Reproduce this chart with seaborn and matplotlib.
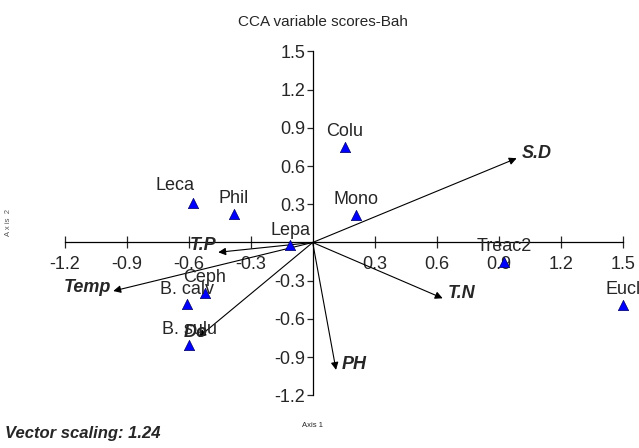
import pandas as pd
import seaborn as sns
import matplotlib.pyplot as plt

# Species scores (blue triangles)
species = ['Colu', 'Mono', 'Leca', 'Phil', 'Lepa', 'Ceph', 'B. calv', 'B. sulu', 'Treac2', 'Eucl']
sp_axis1 = [0.156, 0.209, -0.578, -0.381, -0.109, -0.521, -0.610, -0.598, 0.926, 1.500]
sp_axis2 = [0.752, 0.216, 0.313, 0.224, -0.020, -0.394, -0.483, -0.804, -0.151, -0.490]

# Environmental vectors
env_vars = ['S.D', 'T.N', 'T.P', 'Temp', 'Do', 'PH']
env_axis1 = [0.987, 0.629, -0.457, -0.965, -0.553, 0.113]
env_axis2 = [0.661, -0.438, -0.077, -0.381, -0.744, -1.000]

ticks = [-1.2, -0.9, -0.6, -0.3, 0.3, 0.6, 0.9, 1.2, 1.5]

df = pd.DataFrame({'species': species, 'axis1': sp_axis1, 'axis2': sp_axis2})

sns.set_style('white')
plt.rcParams['font.family'] = ['Liberation Sans', 'DejaVu Sans']

fig = plt.figure(figsize=(6.39, 4.48), dpi=100)
ax = fig.add_axes([0, 0, 1, 1])
ax.set_xlim(-1.513, 1.579)
ax.set_ylim(-1.613, 1.903)

# axes crossing at the origin
for side in ['top', 'right']:
    ax.spines[side].set_visible(False)
for side in ['left', 'bottom']:
    ax.spines[side].set_position(('data', 0))
    ax.spines[side].set_bounds(-1.2, 1.5)
    ax.spines[side].set_color('black')
    ax.spines[side].set_linewidth(0.9)

ax.set_xticks(ticks)
ax.set_yticks(ticks)
ax.set_xticklabels([f'{t:.1f}' for t in ticks])
ax.set_yticklabels([f'{t:.1f}' for t in ticks])
ax.tick_params(axis='x', direction='inout', length=9, width=0.9, pad=5, labelsize=13, bottom=True)
ax.tick_params(axis='y', direction='out', length=4.5, width=0.9, pad=1, labelsize=13, left=True)

# vectors
for name, x, y in zip(env_vars, env_axis1, env_axis2):
    ax.annotate('', xy=(x, y), xytext=(0, 0),
                arrowprops=dict(arrowstyle='-|>', color='black', lw=0.8,
                                mutation_scale=11, shrinkA=0, shrinkB=0))

env_offsets = {'S.D': (5, 7, 'left'), 'T.N': (5, 7, 'left'), 'T.P': (-15, 9, 'center'),
               'Temp': (-2, 6, 'right'), 'Do': (-3, 7, 'center'), 'PH': (6, 7, 'left')}
for name, x, y in zip(env_vars, env_axis1, env_axis2):
    dx, dy, ha = env_offsets[name]
    ax.annotate(name, (x, y), xytext=(dx, dy), textcoords='offset pixels',
                ha=ha, va='center_baseline', fontsize=13, fontweight='bold',
                fontstyle='italic', zorder=5)

# species
sns.scatterplot(data=df, x='axis1', y='axis2', marker='^', color='#0000ff',
                edgecolor='#000066', linewidth=0.5, s=55, ax=ax, zorder=4, legend=False)
ax.set_xlabel('')
ax.set_ylabel('')

sp_offsets = {'Leca': (-18, 19)}
for name, x, y in zip(species, sp_axis1, sp_axis2):
    dx, dy = sp_offsets.get(name, (0, 17))
    ax.annotate(name, (x, y), xytext=(dx, dy), textcoords='offset pixels',
                ha='center', va='center_baseline', fontsize=13, zorder=4)

fig.text(323 / 639, 1 - 22 / 448, 'CCA variable scores-Bah', ha='center', va='center', fontsize=11)
fig.text(313 / 639, 1 - 425 / 448, 'Axis 1', ha='center', va='center', fontsize=5.5)
fig.text(9 / 639, 1 - 222 / 448, 'A x is  2', ha='center', va='center', fontsize=5.5,
         rotation=90, color='#555555')
fig.text(5 / 639, 1 - 433 / 448, 'Vector scaling: 1.24', ha='left', va='center',
         fontsize=12, fontweight='bold', fontstyle='italic')

fig.savefig('out.png', dpi=100)
